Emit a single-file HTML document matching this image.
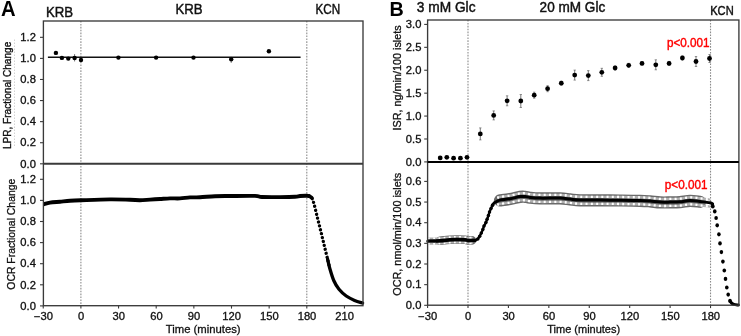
<!DOCTYPE html>
<html><head><meta charset="utf-8"><style>
html,body{margin:0;padding:0;background:#fff;width:741px;height:336px;overflow:hidden}
svg{display:block;will-change:transform}
</style></head><body>
<svg width="741" height="336" viewBox="0 0 741 336" font-family='"Liberation Sans", sans-serif'>
<rect width="741" height="336" fill="#fff"/>
<line x1="80.90" y1="21.00" x2="80.90" y2="305.70" stroke="#8c8c8c" stroke-width="1.1" stroke-dasharray="1.6 1.3"/>
<line x1="306.80" y1="21.00" x2="306.80" y2="305.70" stroke="#8c8c8c" stroke-width="1.1" stroke-dasharray="1.6 1.3"/>
<line x1="47.90" y1="57.30" x2="300.60" y2="57.30" stroke="#111" stroke-width="1.4"/>
<line x1="74.60" y1="54.00" x2="74.60" y2="61.50" stroke="#666" stroke-width="0.8"/>
<line x1="231.20" y1="56.50" x2="231.20" y2="63.00" stroke="#666" stroke-width="0.8"/>
<circle cx="55.9" cy="52.9" r="2.2" fill="#000"/>
<circle cx="61.9" cy="57.9" r="2.2" fill="#000"/>
<circle cx="68.3" cy="58.6" r="2.2" fill="#000"/>
<circle cx="74.6" cy="58.0" r="2.2" fill="#000"/>
<circle cx="81" cy="60" r="2.2" fill="#000"/>
<circle cx="118.4" cy="57.6" r="2.2" fill="#000"/>
<circle cx="156.1" cy="57.6" r="2.2" fill="#000"/>
<circle cx="193.5" cy="57.6" r="2.2" fill="#000"/>
<circle cx="231.2" cy="59.3" r="2.2" fill="#000"/>
<circle cx="268.9" cy="51.3" r="2.2" fill="#000"/>
<path d="M43.60,204.30 C44.67,204.02 47.27,203.03 50.00,202.60 C52.73,202.17 56.67,202.00 60.00,201.70 C63.33,201.40 66.50,201.03 70.00,200.80 C73.50,200.57 74.33,200.53 81.00,200.30 C87.67,200.07 101.83,199.48 110.00,199.40 C118.17,199.32 125.00,199.67 130.00,199.80 C135.00,199.93 136.67,200.23 140.00,200.20 C143.33,200.17 146.67,199.80 150.00,199.60 C153.33,199.40 156.67,199.20 160.00,199.00 C163.33,198.80 166.67,198.50 170.00,198.40 C173.33,198.30 176.67,198.57 180.00,198.40 C183.33,198.23 186.67,197.58 190.00,197.40 C193.33,197.22 195.83,197.50 200.00,197.30 C204.17,197.10 210.00,196.42 215.00,196.20 C220.00,195.98 223.33,196.05 230.00,196.00 C236.67,195.95 249.67,195.73 255.00,195.90 C260.33,196.07 257.83,196.80 262.00,197.00 C266.17,197.20 274.50,197.13 280.00,197.10 C285.50,197.07 291.67,196.98 295.00,196.80 C298.33,196.62 298.00,196.17 300.00,196.00 C302.00,195.83 305.42,195.78 307.00,195.80 C308.58,195.82 309.08,196.05 309.50,196.10" fill="none" stroke="#000" stroke-width="3.9" stroke-linejoin="round" stroke-linecap="butt"/>
<path d="M309.50,196.10 C309.88,196.38 311.02,196.38 311.80,197.80 C312.58,199.22 313.25,201.23 314.20,204.60 C315.15,207.97 316.38,213.50 317.50,218.00 C318.62,222.50 319.78,227.05 320.90,231.60 C322.02,236.15 323.08,240.70 324.20,245.30 C325.32,249.90 326.67,255.33 327.60,259.20 C328.53,263.07 329.43,266.95 329.80,268.50" fill="none" stroke="#000" stroke-width="3.3" stroke-linejoin="round" stroke-linecap="round" stroke-dasharray="0.01 4.0"/>
<path d="M309.50,196.10 C309.88,196.38 311.42,197.52 311.80,197.80" fill="none" stroke="#000" stroke-width="3.6" stroke-linejoin="round" stroke-linecap="round" />
<path d="M327.60,259.20 C327.97,260.75 328.78,264.95 329.80,268.50 C330.82,272.05 332.22,277.03 333.75,280.50 C335.28,283.97 336.92,286.72 339.00,289.30 C341.08,291.88 343.65,294.15 346.25,296.00 C348.85,297.85 351.88,299.23 354.60,300.40 C357.33,301.57 361.27,302.57 362.60,303.00" fill="none" stroke="#000" stroke-width="3.3" stroke-linejoin="round" stroke-linecap="round" />
<rect x="43.4" y="21.0" width="319.60" height="284.70" stroke="#3a3a3a" stroke-width="1.35" fill="none"/>
<line x1="43.40" y1="163.80" x2="363.00" y2="163.80" stroke="#3a3a3a" stroke-width="1.9"/>
<line x1="40.00" y1="163.80" x2="43.40" y2="163.80" stroke="#3a3a3a" stroke-width="1.1"/>
<text transform="translate(35.90,167.50) scale(1.12,1)" font-size="10" text-anchor="end" font-weight="normal" fill="#111"  stroke="#111" stroke-width="0.3">0.0</text>
<line x1="40.00" y1="142.72" x2="43.40" y2="142.72" stroke="#3a3a3a" stroke-width="1.1"/>
<text transform="translate(35.90,146.42) scale(1.12,1)" font-size="10" text-anchor="end" font-weight="normal" fill="#111"  stroke="#111" stroke-width="0.3">0.2</text>
<line x1="40.00" y1="121.64" x2="43.40" y2="121.64" stroke="#3a3a3a" stroke-width="1.1"/>
<text transform="translate(35.90,125.34) scale(1.12,1)" font-size="10" text-anchor="end" font-weight="normal" fill="#111"  stroke="#111" stroke-width="0.3">0.4</text>
<line x1="40.00" y1="100.56" x2="43.40" y2="100.56" stroke="#3a3a3a" stroke-width="1.1"/>
<text transform="translate(35.90,104.26) scale(1.12,1)" font-size="10" text-anchor="end" font-weight="normal" fill="#111"  stroke="#111" stroke-width="0.3">0.6</text>
<line x1="40.00" y1="79.48" x2="43.40" y2="79.48" stroke="#3a3a3a" stroke-width="1.1"/>
<text transform="translate(35.90,83.18) scale(1.12,1)" font-size="10" text-anchor="end" font-weight="normal" fill="#111"  stroke="#111" stroke-width="0.3">0.8</text>
<line x1="40.00" y1="58.40" x2="43.40" y2="58.40" stroke="#3a3a3a" stroke-width="1.1"/>
<text transform="translate(35.90,62.10) scale(1.12,1)" font-size="10" text-anchor="end" font-weight="normal" fill="#111"  stroke="#111" stroke-width="0.3">1.0</text>
<line x1="40.00" y1="37.32" x2="43.40" y2="37.32" stroke="#3a3a3a" stroke-width="1.1"/>
<text transform="translate(35.90,41.02) scale(1.12,1)" font-size="10" text-anchor="end" font-weight="normal" fill="#111"  stroke="#111" stroke-width="0.3">1.2</text>
<line x1="40.00" y1="305.90" x2="43.40" y2="305.90" stroke="#3a3a3a" stroke-width="1.1"/>
<text transform="translate(35.90,309.60) scale(1.12,1)" font-size="10" text-anchor="end" font-weight="normal" fill="#111"  stroke="#111" stroke-width="0.3">0.0</text>
<line x1="40.00" y1="284.80" x2="43.40" y2="284.80" stroke="#3a3a3a" stroke-width="1.1"/>
<text transform="translate(35.90,288.50) scale(1.12,1)" font-size="10" text-anchor="end" font-weight="normal" fill="#111"  stroke="#111" stroke-width="0.3">0.2</text>
<line x1="40.00" y1="263.70" x2="43.40" y2="263.70" stroke="#3a3a3a" stroke-width="1.1"/>
<text transform="translate(35.90,267.40) scale(1.12,1)" font-size="10" text-anchor="end" font-weight="normal" fill="#111"  stroke="#111" stroke-width="0.3">0.4</text>
<line x1="40.00" y1="242.60" x2="43.40" y2="242.60" stroke="#3a3a3a" stroke-width="1.1"/>
<text transform="translate(35.90,246.30) scale(1.12,1)" font-size="10" text-anchor="end" font-weight="normal" fill="#111"  stroke="#111" stroke-width="0.3">0.6</text>
<line x1="40.00" y1="221.50" x2="43.40" y2="221.50" stroke="#3a3a3a" stroke-width="1.1"/>
<text transform="translate(35.90,225.20) scale(1.12,1)" font-size="10" text-anchor="end" font-weight="normal" fill="#111"  stroke="#111" stroke-width="0.3">0.8</text>
<line x1="40.00" y1="200.40" x2="43.40" y2="200.40" stroke="#3a3a3a" stroke-width="1.1"/>
<text transform="translate(35.90,204.10) scale(1.12,1)" font-size="10" text-anchor="end" font-weight="normal" fill="#111"  stroke="#111" stroke-width="0.3">1.0</text>
<line x1="40.00" y1="179.30" x2="43.40" y2="179.30" stroke="#3a3a3a" stroke-width="1.1"/>
<text transform="translate(35.90,183.00) scale(1.12,1)" font-size="10" text-anchor="end" font-weight="normal" fill="#111"  stroke="#111" stroke-width="0.3">1.2</text>
<line x1="43.25" y1="305.70" x2="43.25" y2="308.60" stroke="#3a3a3a" stroke-width="1.1"/>
<text transform="translate(43.45,319.60) scale(1.12,1)" font-size="10" text-anchor="middle" font-weight="normal" fill="#111"  stroke="#111" stroke-width="0.3">−30</text>
<line x1="80.90" y1="305.70" x2="80.90" y2="308.60" stroke="#3a3a3a" stroke-width="1.1"/>
<text transform="translate(81.10,319.60) scale(1.12,1)" font-size="10" text-anchor="middle" font-weight="normal" fill="#111"  stroke="#111" stroke-width="0.3">0</text>
<line x1="118.55" y1="305.70" x2="118.55" y2="308.60" stroke="#3a3a3a" stroke-width="1.1"/>
<text transform="translate(118.75,319.60) scale(1.12,1)" font-size="10" text-anchor="middle" font-weight="normal" fill="#111"  stroke="#111" stroke-width="0.3">30</text>
<line x1="156.20" y1="305.70" x2="156.20" y2="308.60" stroke="#3a3a3a" stroke-width="1.1"/>
<text transform="translate(156.40,319.60) scale(1.12,1)" font-size="10" text-anchor="middle" font-weight="normal" fill="#111"  stroke="#111" stroke-width="0.3">60</text>
<line x1="193.85" y1="305.70" x2="193.85" y2="308.60" stroke="#3a3a3a" stroke-width="1.1"/>
<text transform="translate(194.05,319.60) scale(1.12,1)" font-size="10" text-anchor="middle" font-weight="normal" fill="#111"  stroke="#111" stroke-width="0.3">90</text>
<line x1="231.50" y1="305.70" x2="231.50" y2="308.60" stroke="#3a3a3a" stroke-width="1.1"/>
<text transform="translate(231.70,319.60) scale(1.12,1)" font-size="10" text-anchor="middle" font-weight="normal" fill="#111"  stroke="#111" stroke-width="0.3">120</text>
<line x1="269.15" y1="305.70" x2="269.15" y2="308.60" stroke="#3a3a3a" stroke-width="1.1"/>
<text transform="translate(269.35,319.60) scale(1.12,1)" font-size="10" text-anchor="middle" font-weight="normal" fill="#111"  stroke="#111" stroke-width="0.3">150</text>
<line x1="306.80" y1="305.70" x2="306.80" y2="308.60" stroke="#3a3a3a" stroke-width="1.1"/>
<text transform="translate(307.00,319.60) scale(1.12,1)" font-size="10" text-anchor="middle" font-weight="normal" fill="#111"  stroke="#111" stroke-width="0.3">180</text>
<line x1="344.45" y1="305.70" x2="344.45" y2="308.60" stroke="#3a3a3a" stroke-width="1.1"/>
<text transform="translate(344.65,319.60) scale(1.12,1)" font-size="10" text-anchor="middle" font-weight="normal" fill="#111"  stroke="#111" stroke-width="0.3">210</text>
<text transform="translate(1.00,15.80) scale(0.9,1)" font-size="22.5" text-anchor="start" font-weight="bold" fill="#000" >A</text>
<text transform="translate(46.00,16.60) scale(0.87,1)" font-size="15.2" text-anchor="start" font-weight="normal" fill="#111"  stroke="#111" stroke-width="0.45">KRB</text>
<text transform="translate(175.40,13.80) scale(0.87,1)" font-size="15.2" text-anchor="start" font-weight="normal" fill="#111"  stroke="#111" stroke-width="0.45">KRB</text>
<text transform="translate(315.50,13.70) scale(0.84,1)" font-size="13.9" text-anchor="start" font-weight="normal" fill="#111"  stroke="#111" stroke-width="0.45">KCN</text>
<text x="203.20" y="333.00" font-size="11.3" text-anchor="middle" font-weight="normal" fill="#111"  stroke="#111" stroke-width="0.3">Time (minutes)</text>
<text transform="translate(10.9,95.4) rotate(-90)" font-size="10.05" text-anchor="middle" fill="#111" stroke="#111" stroke-width="0.35">LPR, Fractional Change</text>
<text transform="translate(15.4,234.2) rotate(-90)" font-size="10.4" text-anchor="middle" fill="#111" stroke="#111" stroke-width="0.3">OCR Fractional Change</text>
<line x1="14.50" y1="39.50" x2="14.50" y2="146.00" stroke="#c8c8c8" stroke-width="0.8" stroke-dasharray="1.5 1.5"/>
<line x1="468.00" y1="20.00" x2="468.00" y2="305.20" stroke="#8c8c8c" stroke-width="1.1" stroke-dasharray="1.6 1.3"/>
<line x1="710.53" y1="20.00" x2="710.53" y2="305.20" stroke="#8c8c8c" stroke-width="1.1" stroke-dasharray="1.6 1.3"/>
<circle cx="440.2" cy="157.9" r="2.4" fill="#000"/>
<circle cx="446.8" cy="157.3" r="2.4" fill="#000"/>
<circle cx="453.6" cy="158.2" r="2.4" fill="#000"/>
<circle cx="460.4" cy="158.2" r="2.4" fill="#000"/>
<circle cx="467" cy="157.3" r="2.4" fill="#000"/>
<line x1="480.30" y1="127.90" x2="480.30" y2="139.90" stroke="#555" stroke-width="0.8"/>
<line x1="479.10" y1="127.90" x2="481.50" y2="127.90" stroke="#555" stroke-width="0.6"/>
<line x1="479.10" y1="139.90" x2="481.50" y2="139.90" stroke="#555" stroke-width="0.6"/>
<circle cx="480.3" cy="133.9" r="2.4" fill="#000"/>
<line x1="493.70" y1="110.90" x2="493.70" y2="119.90" stroke="#555" stroke-width="0.8"/>
<line x1="492.50" y1="110.90" x2="494.90" y2="110.90" stroke="#555" stroke-width="0.6"/>
<line x1="492.50" y1="119.90" x2="494.90" y2="119.90" stroke="#555" stroke-width="0.6"/>
<circle cx="493.7" cy="115.4" r="2.4" fill="#000"/>
<line x1="507.10" y1="95.80" x2="507.10" y2="105.80" stroke="#555" stroke-width="0.8"/>
<line x1="505.90" y1="95.80" x2="508.30" y2="95.80" stroke="#555" stroke-width="0.6"/>
<line x1="505.90" y1="105.80" x2="508.30" y2="105.80" stroke="#555" stroke-width="0.6"/>
<circle cx="507.1" cy="100.8" r="2.4" fill="#000"/>
<line x1="520.80" y1="94.50" x2="520.80" y2="107.50" stroke="#555" stroke-width="0.8"/>
<line x1="519.60" y1="94.50" x2="522.00" y2="94.50" stroke="#555" stroke-width="0.6"/>
<line x1="519.60" y1="107.50" x2="522.00" y2="107.50" stroke="#555" stroke-width="0.6"/>
<circle cx="520.8" cy="101" r="2.4" fill="#000"/>
<line x1="534.20" y1="92.20" x2="534.20" y2="98.20" stroke="#555" stroke-width="0.8"/>
<line x1="533.00" y1="92.20" x2="535.40" y2="92.20" stroke="#555" stroke-width="0.6"/>
<line x1="533.00" y1="98.20" x2="535.40" y2="98.20" stroke="#555" stroke-width="0.6"/>
<circle cx="534.2" cy="95.2" r="2.4" fill="#000"/>
<line x1="547.60" y1="85.70" x2="547.60" y2="91.70" stroke="#555" stroke-width="0.8"/>
<line x1="546.40" y1="85.70" x2="548.80" y2="85.70" stroke="#555" stroke-width="0.6"/>
<line x1="546.40" y1="91.70" x2="548.80" y2="91.70" stroke="#555" stroke-width="0.6"/>
<circle cx="547.6" cy="88.7" r="2.4" fill="#000"/>
<line x1="561.30" y1="81.20" x2="561.30" y2="85.20" stroke="#555" stroke-width="0.8"/>
<line x1="560.10" y1="81.20" x2="562.50" y2="81.20" stroke="#555" stroke-width="0.6"/>
<line x1="560.10" y1="85.20" x2="562.50" y2="85.20" stroke="#555" stroke-width="0.6"/>
<circle cx="561.3" cy="83.2" r="2.4" fill="#000"/>
<line x1="574.70" y1="70.10" x2="574.70" y2="80.10" stroke="#555" stroke-width="0.8"/>
<line x1="573.50" y1="70.10" x2="575.90" y2="70.10" stroke="#555" stroke-width="0.6"/>
<line x1="573.50" y1="80.10" x2="575.90" y2="80.10" stroke="#555" stroke-width="0.6"/>
<circle cx="574.7" cy="75.1" r="2.4" fill="#000"/>
<line x1="588.30" y1="70.60" x2="588.30" y2="80.60" stroke="#555" stroke-width="0.8"/>
<line x1="587.10" y1="70.60" x2="589.50" y2="70.60" stroke="#555" stroke-width="0.6"/>
<line x1="587.10" y1="80.60" x2="589.50" y2="80.60" stroke="#555" stroke-width="0.6"/>
<circle cx="588.3" cy="75.6" r="2.4" fill="#000"/>
<line x1="601.80" y1="68.30" x2="601.80" y2="76.30" stroke="#555" stroke-width="0.8"/>
<line x1="600.60" y1="68.30" x2="603.00" y2="68.30" stroke="#555" stroke-width="0.6"/>
<line x1="600.60" y1="76.30" x2="603.00" y2="76.30" stroke="#555" stroke-width="0.6"/>
<circle cx="601.8" cy="72.3" r="2.4" fill="#000"/>
<line x1="615.10" y1="66.00" x2="615.10" y2="70.00" stroke="#555" stroke-width="0.8"/>
<line x1="613.90" y1="66.00" x2="616.30" y2="66.00" stroke="#555" stroke-width="0.6"/>
<line x1="613.90" y1="70.00" x2="616.30" y2="70.00" stroke="#555" stroke-width="0.6"/>
<circle cx="615.1" cy="68" r="2.4" fill="#000"/>
<line x1="628.70" y1="63.30" x2="628.70" y2="67.30" stroke="#555" stroke-width="0.8"/>
<line x1="627.50" y1="63.30" x2="629.90" y2="63.30" stroke="#555" stroke-width="0.6"/>
<line x1="627.50" y1="67.30" x2="629.90" y2="67.30" stroke="#555" stroke-width="0.6"/>
<circle cx="628.7" cy="65.3" r="2.4" fill="#000"/>
<line x1="642.00" y1="61.90" x2="642.00" y2="64.90" stroke="#555" stroke-width="0.8"/>
<line x1="640.80" y1="61.90" x2="643.20" y2="61.90" stroke="#555" stroke-width="0.6"/>
<line x1="640.80" y1="64.90" x2="643.20" y2="64.90" stroke="#555" stroke-width="0.6"/>
<circle cx="642" cy="63.4" r="2.4" fill="#000"/>
<line x1="655.80" y1="59.80" x2="655.80" y2="69.80" stroke="#555" stroke-width="0.8"/>
<line x1="654.60" y1="59.80" x2="657.00" y2="59.80" stroke="#555" stroke-width="0.6"/>
<line x1="654.60" y1="69.80" x2="657.00" y2="69.80" stroke="#555" stroke-width="0.6"/>
<circle cx="655.8" cy="64.8" r="2.4" fill="#000"/>
<line x1="669.10" y1="61.40" x2="669.10" y2="65.40" stroke="#555" stroke-width="0.8"/>
<line x1="667.90" y1="61.40" x2="670.30" y2="61.40" stroke="#555" stroke-width="0.6"/>
<line x1="667.90" y1="65.40" x2="670.30" y2="65.40" stroke="#555" stroke-width="0.6"/>
<circle cx="669.1" cy="63.4" r="2.4" fill="#000"/>
<line x1="682.40" y1="56.00" x2="682.40" y2="60.00" stroke="#555" stroke-width="0.8"/>
<line x1="681.20" y1="56.00" x2="683.60" y2="56.00" stroke="#555" stroke-width="0.6"/>
<line x1="681.20" y1="60.00" x2="683.60" y2="60.00" stroke="#555" stroke-width="0.6"/>
<circle cx="682.4" cy="58" r="2.4" fill="#000"/>
<line x1="696.00" y1="56.50" x2="696.00" y2="66.50" stroke="#555" stroke-width="0.8"/>
<line x1="694.80" y1="56.50" x2="697.20" y2="56.50" stroke="#555" stroke-width="0.6"/>
<line x1="694.80" y1="66.50" x2="697.20" y2="66.50" stroke="#555" stroke-width="0.6"/>
<circle cx="696" cy="61.5" r="2.4" fill="#000"/>
<line x1="709.50" y1="54.50" x2="709.50" y2="62.50" stroke="#555" stroke-width="0.8"/>
<line x1="708.30" y1="54.50" x2="710.70" y2="54.50" stroke="#555" stroke-width="0.6"/>
<line x1="708.30" y1="62.50" x2="710.70" y2="62.50" stroke="#555" stroke-width="0.6"/>
<circle cx="709.5" cy="58.5" r="2.4" fill="#000"/>
<path d="M440.00,240.80 C441.67,240.63 447.17,240.02 450.00,239.80 C452.83,239.58 454.50,239.50 457.00,239.50 C459.50,239.50 463.17,239.63 465.00,239.80 C466.83,239.97 466.83,240.40 468.00,240.50 C469.17,240.60 471.33,240.42 472.00,240.40" fill="none" stroke="#6a6a6a" stroke-width="8.6" stroke-linejoin="round" stroke-linecap="round"/>
<path d="M428.00,238.40 C430.00,238.35 436.33,238.32 440.00,238.10 C443.67,237.88 447.17,237.32 450.00,237.10 C452.83,236.88 454.50,236.80 457.00,236.80 C459.50,236.80 463.17,236.93 465.00,237.10 C466.83,237.27 466.83,237.70 468.00,237.80 C469.17,237.90 471.67,237.70 472.00,237.70 C472.33,237.70 470.33,237.78 470.00,237.80" fill="none" stroke="#b0b0b0" stroke-width="1.8" stroke-linejoin="round" stroke-linecap="butt"/>
<path d="M428.00,238.40 C430.00,238.35 436.33,238.32 440.00,238.10 C443.67,237.88 447.17,237.32 450.00,237.10 C452.83,236.88 454.50,236.80 457.00,236.80 C459.50,236.80 463.17,236.93 465.00,237.10 C466.83,237.27 466.83,237.70 468.00,237.80 C469.17,237.90 471.67,237.70 472.00,237.70 C472.33,237.70 470.33,237.78 470.00,237.80" fill="none" stroke="#ffffff" stroke-width="1.8" stroke-linejoin="round" stroke-dasharray="1.8 3.4" stroke-linecap="butt"/>
<path d="M428.00,243.90 C430.00,243.85 436.33,243.82 440.00,243.60 C443.67,243.38 447.17,242.82 450.00,242.60 C452.83,242.38 454.50,242.30 457.00,242.30 C459.50,242.30 463.17,242.43 465.00,242.60 C466.83,242.77 466.83,243.20 468.00,243.30 C469.17,243.40 471.67,243.20 472.00,243.20 C472.33,243.20 470.33,243.28 470.00,243.30" fill="none" stroke="#b0b0b0" stroke-width="1.8" stroke-linejoin="round" stroke-linecap="butt"/>
<path d="M428.00,243.90 C430.00,243.85 436.33,243.82 440.00,243.60 C443.67,243.38 447.17,242.82 450.00,242.60 C452.83,242.38 454.50,242.30 457.00,242.30 C459.50,242.30 463.17,242.43 465.00,242.60 C466.83,242.77 466.83,243.20 468.00,243.30 C469.17,243.40 471.67,243.20 472.00,243.20 C472.33,243.20 470.33,243.28 470.00,243.30" fill="none" stroke="#ffffff" stroke-width="1.8" stroke-linejoin="round" stroke-dasharray="1.8 3.4" stroke-linecap="butt"/>
<path d="M428.00,241.10 C430.00,241.05 436.33,241.02 440.00,240.80 C443.67,240.58 447.17,240.02 450.00,239.80 C452.83,239.58 454.50,239.50 457.00,239.50 C459.50,239.50 463.17,239.63 465.00,239.80 C466.83,239.97 466.83,240.40 468.00,240.50 C469.17,240.60 470.82,240.42 472.00,240.40 C473.18,240.38 474.58,240.40 475.10,240.40" fill="none" stroke="#000" stroke-width="3.4" stroke-linejoin="round" stroke-linecap="round" />
<path d="M500.00,200.40 C501.67,200.18 506.67,199.68 510.00,199.10 C513.33,198.52 517.50,197.28 520.00,196.90 C522.50,196.52 523.33,196.67 525.00,196.80 C526.67,196.93 527.50,197.43 530.00,197.70 C532.50,197.97 535.00,198.28 540.00,198.40 C545.00,198.52 555.00,198.23 560.00,198.40 C565.00,198.57 566.67,199.08 570.00,199.40 C573.33,199.72 575.00,200.13 580.00,200.30 C585.00,200.47 593.33,200.37 600.00,200.40 C606.67,200.43 613.33,200.43 620.00,200.50 C626.67,200.57 635.00,200.65 640.00,200.80 C645.00,200.95 646.67,201.13 650.00,201.40 C653.33,201.67 656.67,202.23 660.00,202.40 C663.33,202.57 666.67,202.45 670.00,202.40 C673.33,202.35 676.67,202.37 680.00,202.10 C683.33,201.83 686.67,200.85 690.00,200.80 C693.33,200.75 698.33,201.63 700.00,201.80" fill="none" stroke="#6a6a6a" stroke-width="12.2" stroke-linejoin="round" stroke-linecap="round"/>
<path d="M497.30,198.00 C497.75,197.82 497.88,197.30 500.00,196.90 C502.12,196.50 506.67,196.18 510.00,195.60 C513.33,195.02 517.50,193.78 520.00,193.40 C522.50,193.02 523.33,193.17 525.00,193.30 C526.67,193.43 527.50,193.93 530.00,194.20 C532.50,194.47 535.00,194.78 540.00,194.90 C545.00,195.02 555.00,194.73 560.00,194.90 C565.00,195.07 566.67,195.58 570.00,195.90 C573.33,196.22 575.00,196.63 580.00,196.80 C585.00,196.97 593.33,196.87 600.00,196.90 C606.67,196.93 613.33,196.93 620.00,197.00 C626.67,197.07 635.00,197.15 640.00,197.30 C645.00,197.45 646.67,197.63 650.00,197.90 C653.33,198.17 656.67,198.73 660.00,198.90 C663.33,199.07 666.67,198.95 670.00,198.90 C673.33,198.85 676.67,198.87 680.00,198.60 C683.33,198.33 686.67,197.35 690.00,197.30 C693.33,197.25 696.67,197.92 700.00,198.30 C703.33,198.68 708.33,199.38 710.00,199.60" fill="none" stroke="#b0b0b0" stroke-width="2.4" stroke-linejoin="round" stroke-linecap="butt"/>
<path d="M497.30,198.00 C497.75,197.82 497.88,197.30 500.00,196.90 C502.12,196.50 506.67,196.18 510.00,195.60 C513.33,195.02 517.50,193.78 520.00,193.40 C522.50,193.02 523.33,193.17 525.00,193.30 C526.67,193.43 527.50,193.93 530.00,194.20 C532.50,194.47 535.00,194.78 540.00,194.90 C545.00,195.02 555.00,194.73 560.00,194.90 C565.00,195.07 566.67,195.58 570.00,195.90 C573.33,196.22 575.00,196.63 580.00,196.80 C585.00,196.97 593.33,196.87 600.00,196.90 C606.67,196.93 613.33,196.93 620.00,197.00 C626.67,197.07 635.00,197.15 640.00,197.30 C645.00,197.45 646.67,197.63 650.00,197.90 C653.33,198.17 656.67,198.73 660.00,198.90 C663.33,199.07 666.67,198.95 670.00,198.90 C673.33,198.85 676.67,198.87 680.00,198.60 C683.33,198.33 686.67,197.35 690.00,197.30 C693.33,197.25 696.67,197.92 700.00,198.30 C703.33,198.68 708.33,199.38 710.00,199.60" fill="none" stroke="#ffffff" stroke-width="2.3" stroke-linejoin="round" stroke-dasharray="2.0 3.24" stroke-linecap="butt"/>
<path d="M497.30,205.00 C497.75,204.82 497.88,204.30 500.00,203.90 C502.12,203.50 506.67,203.18 510.00,202.60 C513.33,202.02 517.50,200.78 520.00,200.40 C522.50,200.02 523.33,200.17 525.00,200.30 C526.67,200.43 527.50,200.93 530.00,201.20 C532.50,201.47 535.00,201.78 540.00,201.90 C545.00,202.02 555.00,201.73 560.00,201.90 C565.00,202.07 566.67,202.58 570.00,202.90 C573.33,203.22 575.00,203.63 580.00,203.80 C585.00,203.97 593.33,203.87 600.00,203.90 C606.67,203.93 613.33,203.93 620.00,204.00 C626.67,204.07 635.00,204.15 640.00,204.30 C645.00,204.45 646.67,204.63 650.00,204.90 C653.33,205.17 656.67,205.73 660.00,205.90 C663.33,206.07 666.67,205.95 670.00,205.90 C673.33,205.85 676.67,205.87 680.00,205.60 C683.33,205.33 686.67,204.35 690.00,204.30 C693.33,204.25 696.67,204.92 700.00,205.30 C703.33,205.68 708.33,206.38 710.00,206.60" fill="none" stroke="#b0b0b0" stroke-width="2.4" stroke-linejoin="round" stroke-linecap="butt"/>
<path d="M497.30,205.00 C497.75,204.82 497.88,204.30 500.00,203.90 C502.12,203.50 506.67,203.18 510.00,202.60 C513.33,202.02 517.50,200.78 520.00,200.40 C522.50,200.02 523.33,200.17 525.00,200.30 C526.67,200.43 527.50,200.93 530.00,201.20 C532.50,201.47 535.00,201.78 540.00,201.90 C545.00,202.02 555.00,201.73 560.00,201.90 C565.00,202.07 566.67,202.58 570.00,202.90 C573.33,203.22 575.00,203.63 580.00,203.80 C585.00,203.97 593.33,203.87 600.00,203.90 C606.67,203.93 613.33,203.93 620.00,204.00 C626.67,204.07 635.00,204.15 640.00,204.30 C645.00,204.45 646.67,204.63 650.00,204.90 C653.33,205.17 656.67,205.73 660.00,205.90 C663.33,206.07 666.67,205.95 670.00,205.90 C673.33,205.85 676.67,205.87 680.00,205.60 C683.33,205.33 686.67,204.35 690.00,204.30 C693.33,204.25 696.67,204.92 700.00,205.30 C703.33,205.68 708.33,206.38 710.00,206.60" fill="none" stroke="#ffffff" stroke-width="2.3" stroke-linejoin="round" stroke-dasharray="2.0 3.24" stroke-linecap="butt"/>
<path d="M492.50,205.20 C492.83,204.77 493.70,203.27 494.50,202.60 C495.30,201.93 496.38,201.62 497.30,201.20 C498.22,200.78 497.88,200.50 500.00,200.10 C502.12,199.70 506.67,199.38 510.00,198.80 C513.33,198.22 517.50,196.98 520.00,196.60 C522.50,196.22 523.33,196.37 525.00,196.50 C526.67,196.63 527.50,197.13 530.00,197.40 C532.50,197.67 535.00,197.98 540.00,198.10 C545.00,198.22 555.00,197.93 560.00,198.10 C565.00,198.27 566.67,198.78 570.00,199.10 C573.33,199.42 575.00,199.83 580.00,200.00 C585.00,200.17 593.33,200.07 600.00,200.10 C606.67,200.13 613.33,200.13 620.00,200.20 C626.67,200.27 635.00,200.35 640.00,200.50 C645.00,200.65 646.67,200.83 650.00,201.10 C653.33,201.37 656.67,201.93 660.00,202.10 C663.33,202.27 666.67,202.15 670.00,202.10 C673.33,202.05 676.67,202.07 680.00,201.80 C683.33,201.53 686.67,200.55 690.00,200.50 C693.33,200.45 696.67,201.12 700.00,201.50 C703.33,201.88 707.92,202.38 710.00,202.80 C712.08,203.22 712.08,203.80 712.50,204.00" fill="none" stroke="#000" stroke-width="3.0" stroke-linejoin="round" stroke-linecap="round" />
<path d="M472.00,240.40 C472.52,240.40 474.13,240.65 475.10,240.40 C476.07,240.15 477.03,239.60 477.80,238.90 C478.57,238.20 479.12,237.17 479.70,236.20 C480.28,235.23 480.78,234.20 481.30,233.10 C481.82,232.00 482.35,230.77 482.80,229.60 C483.25,228.43 483.48,227.27 484.00,226.10 C484.52,224.93 485.38,223.75 485.90,222.60 C486.42,221.45 486.68,220.37 487.10,219.20 C487.52,218.03 488.00,216.82 488.40,215.60 C488.80,214.38 489.07,213.07 489.50,211.90 C489.93,210.73 490.50,209.72 491.00,208.60 C491.50,207.48 492.25,205.77 492.50,205.20" fill="none" stroke="#000" stroke-width="2.4" stroke-linejoin="round" stroke-linecap="round" />
<circle cx="477.8" cy="238.9" r="1.75" fill="#000"/>
<circle cx="479.7" cy="236.2" r="1.75" fill="#000"/>
<circle cx="481.3" cy="233.1" r="1.75" fill="#000"/>
<circle cx="482.8" cy="229.6" r="1.75" fill="#000"/>
<circle cx="484" cy="226.1" r="1.75" fill="#000"/>
<circle cx="485.9" cy="222.6" r="1.75" fill="#000"/>
<circle cx="487.1" cy="219.2" r="1.75" fill="#000"/>
<circle cx="488.4" cy="215.6" r="1.75" fill="#000"/>
<circle cx="489.5" cy="211.9" r="1.75" fill="#000"/>
<circle cx="491" cy="208.6" r="1.75" fill="#000"/>
<circle cx="492.5" cy="205.2" r="1.75" fill="#000"/>
<ellipse cx="712.8" cy="206.5" rx="1.8" ry="2.1" fill="#000"/>
<ellipse cx="714.75" cy="211.4" rx="1.8" ry="2.1" fill="#000"/>
<ellipse cx="716.1" cy="218" rx="1.8" ry="2.1" fill="#000"/>
<ellipse cx="717.2" cy="225.3" rx="1.8" ry="2.1" fill="#000"/>
<ellipse cx="718.9" cy="234.3" rx="1.8" ry="2.1" fill="#000"/>
<ellipse cx="720" cy="243.4" rx="1.8" ry="2.1" fill="#000"/>
<ellipse cx="721.4" cy="252.1" rx="1.8" ry="2.1" fill="#000"/>
<ellipse cx="722.9" cy="261.6" rx="1.8" ry="2.1" fill="#000"/>
<ellipse cx="724.3" cy="270.5" rx="1.8" ry="2.1" fill="#000"/>
<ellipse cx="725.5" cy="278.9" rx="1.8" ry="2.1" fill="#000"/>
<ellipse cx="726.8" cy="287.5" rx="1.8" ry="2.1" fill="#000"/>
<ellipse cx="728.2" cy="294.6" rx="1.8" ry="2.1" fill="#000"/>
<ellipse cx="730" cy="300.9" rx="1.8" ry="2.1" fill="#000"/>
<path d="M712.50,204.00 C712.55,204.42 712.75,206.08 712.80,206.50" fill="none" stroke="#000" stroke-width="3.0" stroke-linejoin="round" stroke-linecap="round" />
<path d="M730.00,300.90 C730.25,301.25 730.83,302.42 731.50,303.00 C732.17,303.58 732.87,304.07 734.00,304.40 C735.13,304.73 737.58,304.90 738.30,305.00" fill="none" stroke="#000" stroke-width="3.0" stroke-linejoin="round" stroke-linecap="round" />
<rect x="427.6" y="20.0" width="311.30" height="285.20" stroke="#3a3a3a" stroke-width="1.35" fill="none"/>
<line x1="427.60" y1="162.00" x2="738.90" y2="162.00" stroke="#000" stroke-width="2.0"/>
<line x1="424.20" y1="161.90" x2="427.60" y2="161.90" stroke="#3a3a3a" stroke-width="1.1"/>
<text transform="translate(421.40,165.60) scale(1.12,1)" font-size="10" text-anchor="end" font-weight="normal" fill="#111"  stroke="#111" stroke-width="0.3">0.0</text>
<line x1="424.20" y1="138.99" x2="427.60" y2="138.99" stroke="#3a3a3a" stroke-width="1.1"/>
<text transform="translate(421.40,142.69) scale(1.12,1)" font-size="10" text-anchor="end" font-weight="normal" fill="#111"  stroke="#111" stroke-width="0.3">0.5</text>
<line x1="424.20" y1="116.07" x2="427.60" y2="116.07" stroke="#3a3a3a" stroke-width="1.1"/>
<text transform="translate(421.40,119.77) scale(1.12,1)" font-size="10" text-anchor="end" font-weight="normal" fill="#111"  stroke="#111" stroke-width="0.3">1.0</text>
<line x1="424.20" y1="93.16" x2="427.60" y2="93.16" stroke="#3a3a3a" stroke-width="1.1"/>
<text transform="translate(421.40,96.86) scale(1.12,1)" font-size="10" text-anchor="end" font-weight="normal" fill="#111"  stroke="#111" stroke-width="0.3">1.5</text>
<line x1="424.20" y1="70.24" x2="427.60" y2="70.24" stroke="#3a3a3a" stroke-width="1.1"/>
<text transform="translate(421.40,73.94) scale(1.12,1)" font-size="10" text-anchor="end" font-weight="normal" fill="#111"  stroke="#111" stroke-width="0.3">2.0</text>
<line x1="424.20" y1="47.33" x2="427.60" y2="47.33" stroke="#3a3a3a" stroke-width="1.1"/>
<text transform="translate(421.40,51.03) scale(1.12,1)" font-size="10" text-anchor="end" font-weight="normal" fill="#111"  stroke="#111" stroke-width="0.3">2.5</text>
<line x1="424.20" y1="24.41" x2="427.60" y2="24.41" stroke="#3a3a3a" stroke-width="1.1"/>
<text transform="translate(421.40,28.11) scale(1.12,1)" font-size="10" text-anchor="end" font-weight="normal" fill="#111"  stroke="#111" stroke-width="0.3">3.0</text>
<line x1="424.20" y1="305.30" x2="427.60" y2="305.30" stroke="#3a3a3a" stroke-width="1.1"/>
<text transform="translate(421.40,309.00) scale(1.12,1)" font-size="10" text-anchor="end" font-weight="normal" fill="#111"  stroke="#111" stroke-width="0.3">0.0</text>
<line x1="424.20" y1="284.65" x2="427.60" y2="284.65" stroke="#3a3a3a" stroke-width="1.1"/>
<text transform="translate(421.40,288.35) scale(1.12,1)" font-size="10" text-anchor="end" font-weight="normal" fill="#111"  stroke="#111" stroke-width="0.3">0.1</text>
<line x1="424.20" y1="264.00" x2="427.60" y2="264.00" stroke="#3a3a3a" stroke-width="1.1"/>
<text transform="translate(421.40,267.70) scale(1.12,1)" font-size="10" text-anchor="end" font-weight="normal" fill="#111"  stroke="#111" stroke-width="0.3">0.2</text>
<line x1="424.20" y1="243.35" x2="427.60" y2="243.35" stroke="#3a3a3a" stroke-width="1.1"/>
<text transform="translate(421.40,247.05) scale(1.12,1)" font-size="10" text-anchor="end" font-weight="normal" fill="#111"  stroke="#111" stroke-width="0.3">0.3</text>
<line x1="424.20" y1="222.70" x2="427.60" y2="222.70" stroke="#3a3a3a" stroke-width="1.1"/>
<text transform="translate(421.40,226.40) scale(1.12,1)" font-size="10" text-anchor="end" font-weight="normal" fill="#111"  stroke="#111" stroke-width="0.3">0.4</text>
<line x1="424.20" y1="202.05" x2="427.60" y2="202.05" stroke="#3a3a3a" stroke-width="1.1"/>
<text transform="translate(421.40,205.75) scale(1.12,1)" font-size="10" text-anchor="end" font-weight="normal" fill="#111"  stroke="#111" stroke-width="0.3">0.5</text>
<line x1="424.20" y1="181.40" x2="427.60" y2="181.40" stroke="#3a3a3a" stroke-width="1.1"/>
<text transform="translate(421.40,185.10) scale(1.12,1)" font-size="10" text-anchor="end" font-weight="normal" fill="#111"  stroke="#111" stroke-width="0.3">0.6</text>
<line x1="427.58" y1="305.20" x2="427.58" y2="308.10" stroke="#3a3a3a" stroke-width="1.1"/>
<text transform="translate(427.78,320.00) scale(1.12,1)" font-size="10" text-anchor="middle" font-weight="normal" fill="#111"  stroke="#111" stroke-width="0.3">−30</text>
<line x1="468.00" y1="305.20" x2="468.00" y2="308.10" stroke="#3a3a3a" stroke-width="1.1"/>
<text transform="translate(468.20,320.00) scale(1.12,1)" font-size="10" text-anchor="middle" font-weight="normal" fill="#111"  stroke="#111" stroke-width="0.3">0</text>
<line x1="508.42" y1="305.20" x2="508.42" y2="308.10" stroke="#3a3a3a" stroke-width="1.1"/>
<text transform="translate(508.62,320.00) scale(1.12,1)" font-size="10" text-anchor="middle" font-weight="normal" fill="#111"  stroke="#111" stroke-width="0.3">30</text>
<line x1="548.84" y1="305.20" x2="548.84" y2="308.10" stroke="#3a3a3a" stroke-width="1.1"/>
<text transform="translate(549.04,320.00) scale(1.12,1)" font-size="10" text-anchor="middle" font-weight="normal" fill="#111"  stroke="#111" stroke-width="0.3">60</text>
<line x1="589.27" y1="305.20" x2="589.27" y2="308.10" stroke="#3a3a3a" stroke-width="1.1"/>
<text transform="translate(589.47,320.00) scale(1.12,1)" font-size="10" text-anchor="middle" font-weight="normal" fill="#111"  stroke="#111" stroke-width="0.3">90</text>
<line x1="629.69" y1="305.20" x2="629.69" y2="308.10" stroke="#3a3a3a" stroke-width="1.1"/>
<text transform="translate(629.89,320.00) scale(1.12,1)" font-size="10" text-anchor="middle" font-weight="normal" fill="#111"  stroke="#111" stroke-width="0.3">120</text>
<line x1="670.11" y1="305.20" x2="670.11" y2="308.10" stroke="#3a3a3a" stroke-width="1.1"/>
<text transform="translate(670.31,320.00) scale(1.12,1)" font-size="10" text-anchor="middle" font-weight="normal" fill="#111"  stroke="#111" stroke-width="0.3">150</text>
<line x1="710.53" y1="305.20" x2="710.53" y2="308.10" stroke="#3a3a3a" stroke-width="1.1"/>
<text transform="translate(710.73,320.00) scale(1.12,1)" font-size="10" text-anchor="middle" font-weight="normal" fill="#111"  stroke="#111" stroke-width="0.3">180</text>
<text transform="translate(389.60,15.80) scale(0.96,1)" font-size="20.6" text-anchor="start" font-weight="bold" fill="#000" >B</text>
<text transform="translate(416.80,12.00) scale(0.98,1)" font-size="14.0" text-anchor="start" font-weight="normal" fill="#111"  stroke="#111" stroke-width="0.45">3 mM Glc</text>
<text transform="translate(539.60,11.80) scale(0.97,1)" font-size="14.0" text-anchor="start" font-weight="normal" fill="#111"  stroke="#111" stroke-width="0.45">20 mM Glc</text>
<text transform="translate(710.20,14.70) scale(0.85,1)" font-size="13.1" text-anchor="start" font-weight="normal" fill="#111"  stroke="#111" stroke-width="0.45">KCN</text>
<text transform="translate(667.00,46.50) scale(0.96,1)" font-size="12.2" text-anchor="start" font-weight="normal" fill="#f00"  stroke="#f00" stroke-width="0.4">p&lt;0.001</text>
<text transform="translate(664.80,189.00) scale(0.96,1)" font-size="12.2" text-anchor="start" font-weight="normal" fill="#f00"  stroke="#f00" stroke-width="0.4">p&lt;0.001</text>
<text x="583.70" y="332.80" font-size="11.0" text-anchor="middle" font-weight="normal" fill="#111"  stroke="#111" stroke-width="0.3">Time (minutes)</text>
<text transform="translate(400.8,77.9) rotate(-90)" font-size="10.8" text-anchor="middle" fill="#111" stroke="#111" stroke-width="0.3">ISR, ng/min/100 islets</text>
<text transform="translate(401.4,234.3) rotate(-90)" font-size="10.85" text-anchor="middle" fill="#111" stroke="#111" stroke-width="0.3">OCR, nmol/min/100 islets</text>
</svg>
</body></html>
